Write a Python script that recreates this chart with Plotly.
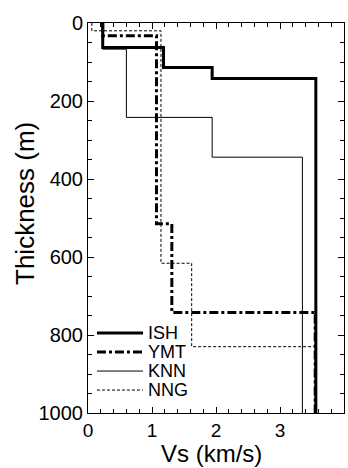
import plotly.graph_objects as go

# Layered Vs profiles: velocity of each layer and depth of each layer top (m)
max_depth = 1000
ish_vs = [0.23, 1.18, 1.94, 3.56]
ish_top = [0, 63, 114, 142]
ymt_vs = [0.23, 1.07, 1.31, 3.55]
ymt_top = [0, 33, 515, 742]
knn_vs = [0.23, 0.60, 1.94, 3.35]
knn_top = [0, 67, 242, 344]
nng_vs = [0.06, 1.14, 1.62, 3.55]
nng_top = [0, 20, 616, 830]

x_ticks = [0, 1, 2, 3, 4]
y_ticks = [0, 200, 400, 600, 800, 1000]

FONT = "Liberation Sans, Arial, sans-serif"

series = [
    ("ISH", ish_vs, ish_top, dict(color="black", width=3)),
    ("YMT", ymt_vs, ymt_top, dict(color="black", width=3, dash="9px,3px,3px,3px")),
    ("KNN", knn_vs, knn_top, dict(color="black", width=1)),
    ("NNG", nng_vs, nng_top, dict(color="black", width=1, dash="3px,2px")),
]

fig = go.Figure()
for name, vs, top, line in series:
    fig.add_trace(go.Scatter(
        x=vs + [vs[-1]],
        y=top + [max_depth],
        mode="lines",
        line_shape="vh",
        line=line,
        name=name,
        showlegend=False,
    ))

# legend drawn inside the plot (lower left), one row per series
leg_x0, leg_x1, leg_tx = 0.035, 0.215, 0.232
leg_y0, leg_dy = 0.205, 19 / 390
for i, (name, vs, top, line) in enumerate(series):
    yy = leg_y0 - i * leg_dy
    fig.add_shape(type="line", xref="paper", yref="paper",
                  x0=leg_x0, x1=leg_x1, y0=yy, y1=yy, line=line)
    fig.add_annotation(xref="paper", yref="paper", x=leg_tx, y=yy,
                       xanchor="left", yanchor="middle", showarrow=False,
                       borderpad=0,
                       text=name, font=dict(family=FONT, size=18, color="black"))

axis_common = dict(
    showline=True, linecolor="black", linewidth=1, mirror="allticks",
    ticks="inside", ticklen=6, tickwidth=1, tickcolor="black",
    showgrid=False, zeroline=False,
)

fig.update_xaxes(
    range=[0, 4], tickvals=x_ticks, ticktext=[str(v) for v in x_ticks],
    minor=dict(dtick=0.2, ticks="inside", ticklen=4, tickcolor="black", showgrid=False),
    tickfont=dict(family=FONT, size=19, color="black"),
    **axis_common,
)
fig.update_yaxes(
    range=[max_depth, 0], tickvals=y_ticks, ticktext=[str(v) for v in y_ticks],
    minor=dict(dtick=50, ticks="inside", ticklen=4, tickcolor="black", showgrid=False),
    tickfont=dict(family=FONT, size=20, color="black"),
    **axis_common,
)

# axis titles
fig.add_annotation(xref="paper", yref="paper", x=0.482, y=-0.141,
                   xanchor="center", yanchor="bottom", showarrow=False, borderpad=0,
                   text="Vs (km/s)", font=dict(family=FONT, size=24, color="black"))
fig.add_annotation(xref="paper", yref="paper", x=-0.246, y=0.536,
                   xanchor="center", yanchor="middle", showarrow=False, textangle=-90,
                   borderpad=0,
                   text="Thickness (m)", font=dict(family=FONT, size=26, color="black"))

fig.update_layout(
    width=348, height=468,
    margin=dict(l=88, r=4, t=23, b=55),
    paper_bgcolor="white", plot_bgcolor="white",
    font=dict(family=FONT, color="black"),
    showlegend=False,
)

fig.write_html("out.html")
